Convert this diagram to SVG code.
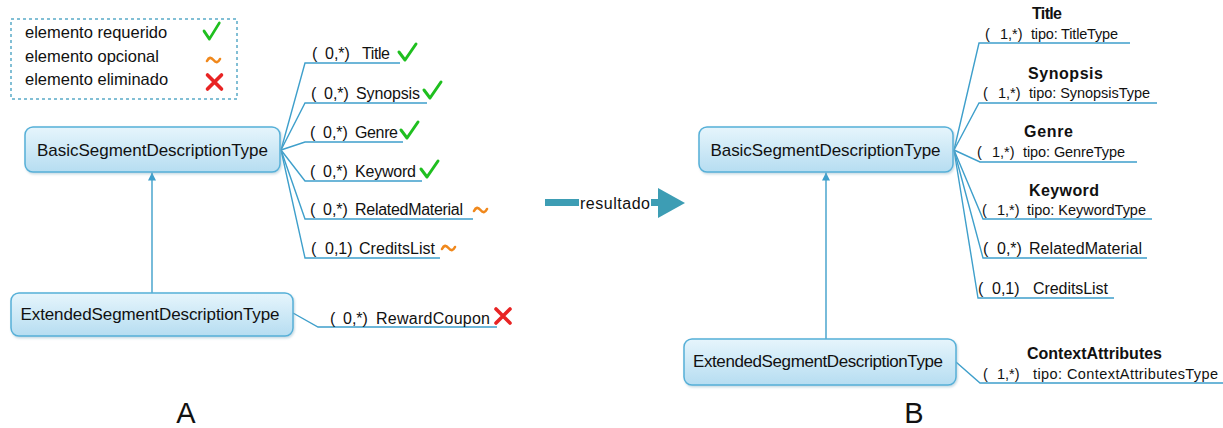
<svg xmlns="http://www.w3.org/2000/svg" width="1223" height="428" viewBox="0 0 1223 428">
  <style>
    text { font-family: "Liberation Sans", Arial, sans-serif; fill: #111; }
    .node rect { fill: url(#nodeFill); stroke: #56b0d8; stroke-width: 1.5; filter: url(#shadow); }
    .node text { font-size: 17px; text-anchor: middle; }
    .legend { font-size: 16.5px; }
    .br { font-size: 16px; }
    .brr { font-size: 14.5px; }
    .bold { font-weight: bold; font-size: 16px; }
    .conn { fill: none; stroke: #3e9fcb; stroke-width: 1.4; }
    .ok { fill: none; stroke: #1fbf1f; stroke-width: 3; stroke-linecap: round; stroke-linejoin: round; }
    .opt { fill: none; stroke: #f0881c; stroke-width: 2.6; stroke-linecap: round; }
    .del { fill: none; stroke: #e82424; stroke-width: 3.6; stroke-linecap: round; }
    .label { font-size: 29px; text-anchor: middle; }
  </style>
  <defs>
    <linearGradient id="nodeFill" x1="0" y1="0" x2="0" y2="1">
      <stop offset="0" stop-color="#e6f5fc"/>
      <stop offset="1" stop-color="#b6ddf1"/>
    </linearGradient>
    <filter id="shadow" x="-5%" y="-10%" width="110%" height="130%">
      <feDropShadow dx="1" dy="1.5" stdDeviation="1" flood-color="#7fa9bd" flood-opacity="0.45"/>
    </filter>
    <marker id="tri" viewBox="0 0 10 10" refX="10" refY="5" markerWidth="8" markerHeight="8" markerUnits="userSpaceOnUse" orient="auto">
      <path d="M0,0 L10,5 L0,10 Z" fill="#3e9fcb"/>
    </marker>
    <path id="check" d="M0,8 L6,16 L17,0"/>
    <path id="tilde" d="M0,4 C2,0 4,0 6.5,3 C9,6 11,6 13,2"/>
    <path id="cross" d="M0,0 L14,14 M14,0 L0,14"/>
  </defs>

  <!-- legend -->
  <g id="legend">
    <rect x="11" y="19" width="226" height="80" fill="none" stroke="#5aaac8" stroke-width="1.5" stroke-dasharray="3,3"/>
    <text class="legend" x="25" y="38">elemento requerido</text>
    <text class="legend" x="25" y="62">elemento opcional</text>
    <text class="legend" x="25" y="85">elemento eliminado</text>
    <use href="#check" class="ok" transform="translate(204,23) scale(0.9,1)"/>
    <use href="#tilde" class="opt" transform="translate(207,57)"/>
    <use href="#cross" class="del" transform="translate(207.5,75)"/>
  </g>

  <!-- connectors -->
  <g id="connectors">
    <!-- A: inheritance -->
    <line class="conn" x1="152" y1="293" x2="152" y2="172.5" marker-end="url(#tri)"/>
    <!-- A: child elements of BasicSegmentDescriptionType -->
    <polyline class="conn" points="281,150 305,63 400,63"/>
    <polyline class="conn" points="281,150 305,103 427,103"/>
    <polyline class="conn" points="281,150 305,142 403,142"/>
    <polyline class="conn" points="281,150 305,181 422,181"/>
    <polyline class="conn" points="281,150 305,219 473,219"/>
    <polyline class="conn" points="281,150 305,258 440,258"/>
    <!-- A: child of ExtendedSegmentDescriptionType -->
    <polyline class="conn" points="293,313 318,327 497,327"/>

    <!-- transformation arrow -->
    <rect x="545" y="199" width="118" height="7" fill="#3d9db4"/>
    <path d="M658,188 L685,203 L658,218 Z" fill="#3d9db4"/>

    <!-- B: inheritance -->
    <line class="conn" x1="826" y1="339" x2="826" y2="172.5" marker-end="url(#tri)"/>
    <!-- B: child elements of BasicSegmentDescriptionType -->
    <polyline class="conn" points="954,150 979,43 1130,43"/>
    <polyline class="conn" points="954,150 979,103 1157,103"/>
    <polyline class="conn" points="954,150 980,162 1137,162"/>
    <polyline class="conn" points="954,150 983,219 1152,219"/>
    <polyline class="conn" points="954,150 983,258 1147,258"/>
    <polyline class="conn" points="954,150 978,298 1114,298"/>
    <!-- B: child of ExtendedSegmentDescriptionType -->
    <polyline class="conn" points="956,362 980,383 1223,383"/>
  </g>

  <!-- label on the transformation arrow -->
  <g id="resultado">
    <rect x="579" y="193" width="72" height="20" fill="#fff"/>
    <text x="580" y="209" font-size="16" textLength="70">resultado</text>
  </g>

  <!-- A: nodes -->
  <g id="basicA" class="node">
    <rect x="25" y="127" width="255" height="45" rx="8"/>
    <text x="152.5" y="156" textLength="231">BasicSegmentDescriptionType</text>
  </g>
  <g id="extendedA" class="node">
    <rect x="11" y="293" width="282" height="43" rx="8"/>
    <text x="150" y="320" textLength="259">ExtendedSegmentDescriptionType</text>
  </g>

  <!-- A: child element labels -->
  <g id="titleA">
    <text class="br" y="59"><tspan x="312">(</tspan><tspan x="325">0,*)</tspan><tspan x="362" textLength="28">Title</tspan></text>
    <use href="#check" class="ok" transform="translate(399,44)"/>
  </g>
  <g id="synopsisA">
    <text class="br" y="99"><tspan x="311">(</tspan><tspan x="324">0,*)</tspan><tspan x="356" textLength="64">Synopsis</tspan></text>
    <use href="#check" class="ok" transform="translate(424,82)"/>
  </g>
  <g id="genreA">
    <text class="br" y="138"><tspan x="310">(</tspan><tspan x="323">0,*)</tspan><tspan x="355" textLength="43">Genre</tspan></text>
    <use href="#check" class="ok" transform="translate(401,122)"/>
  </g>
  <g id="keywordA">
    <text class="br" y="177"><tspan x="310">(</tspan><tspan x="323">0,*)</tspan><tspan x="355" textLength="61">Keyword</tspan></text>
    <use href="#check" class="ok" transform="translate(421,161)"/>
  </g>
  <g id="relatedA">
    <text class="br" y="215"><tspan x="310">(</tspan><tspan x="323">0,*)</tspan><tspan x="355" textLength="108">RelatedMaterial</tspan></text>
    <use href="#tilde" class="opt" transform="translate(474,207)"/>
  </g>
  <g id="creditsA">
    <text class="br" y="254"><tspan x="311">(</tspan><tspan x="325">0,1)</tspan><tspan x="359" textLength="76">CreditsList</tspan></text>
    <use href="#tilde" class="opt" transform="translate(442,245)"/>
  </g>
  <g id="rewardA">
    <text class="br" y="324"><tspan x="330">(</tspan><tspan x="343">0,*)</tspan><tspan x="376" textLength="114">RewardCoupon</tspan></text>
    <use href="#cross" class="del" transform="translate(496,309)"/>
  </g>

  <!-- B: nodes -->
  <g id="basicB" class="node">
    <rect x="699" y="127" width="254" height="45" rx="8"/>
    <text x="825.5" y="156" textLength="230">BasicSegmentDescriptionType</text>
  </g>
  <g id="extendedB" class="node">
    <rect x="684" y="339" width="272" height="46" rx="8"/>
    <text x="818" y="367" textLength="250">ExtendedSegmentDescriptionType</text>
  </g>

  <!-- B: child element labels -->
  <g id="titleB">
    <text class="bold" x="1032" y="19" font-size="14.5" textLength="30">Title</text>
    <text class="brr" y="39"><tspan x="985">(</tspan><tspan x="1000">1,*)</tspan><tspan x="1031" textLength="87">tipo: TitleType</tspan></text>
  </g>
  <g id="synopsisB">
    <text class="bold" x="1028" y="79" textLength="75">Synopsis</text>
    <text class="brr" y="98"><tspan x="983">(</tspan><tspan x="998">1,*)</tspan><tspan x="1029" textLength="121">tipo: SynopsisType</tspan></text>
  </g>
  <g id="genreB">
    <text class="bold" x="1024" y="137" textLength="49">Genre</text>
    <text class="brr" y="157"><tspan x="977">(</tspan><tspan x="992">1,*)</tspan><tspan x="1023" textLength="102">tipo: GenreType</tspan></text>
  </g>
  <g id="keywordB">
    <text class="bold" x="1029" y="196" textLength="70">Keyword</text>
    <text class="brr" y="215"><tspan x="982">(</tspan><tspan x="997">1,*)</tspan><tspan x="1027" textLength="119">tipo: KeywordType</tspan></text>
  </g>
  <g id="relatedB">
    <text class="br" y="254"><tspan x="983">(</tspan><tspan x="997">0,*)</tspan><tspan x="1029" textLength="113">RelatedMaterial</tspan></text>
  </g>
  <g id="creditsB">
    <text class="br" y="294"><tspan x="978">(</tspan><tspan x="992">0,1)</tspan><tspan x="1033" textLength="75">CreditsList</tspan></text>
  </g>
  <g id="contextB">
    <text class="bold" x="1027" y="359" textLength="135">ContextAttributes</text>
    <text class="brr" y="379"><tspan x="983">(</tspan><tspan x="997">1,*)</tspan><tspan x="1033" textLength="185">tipo: ContextAttributesType</tspan></text>
  </g>

  <!-- panel labels -->
  <text class="label" x="186" y="423">A</text>
  <text class="label" x="914" y="423">B</text>
</svg>
